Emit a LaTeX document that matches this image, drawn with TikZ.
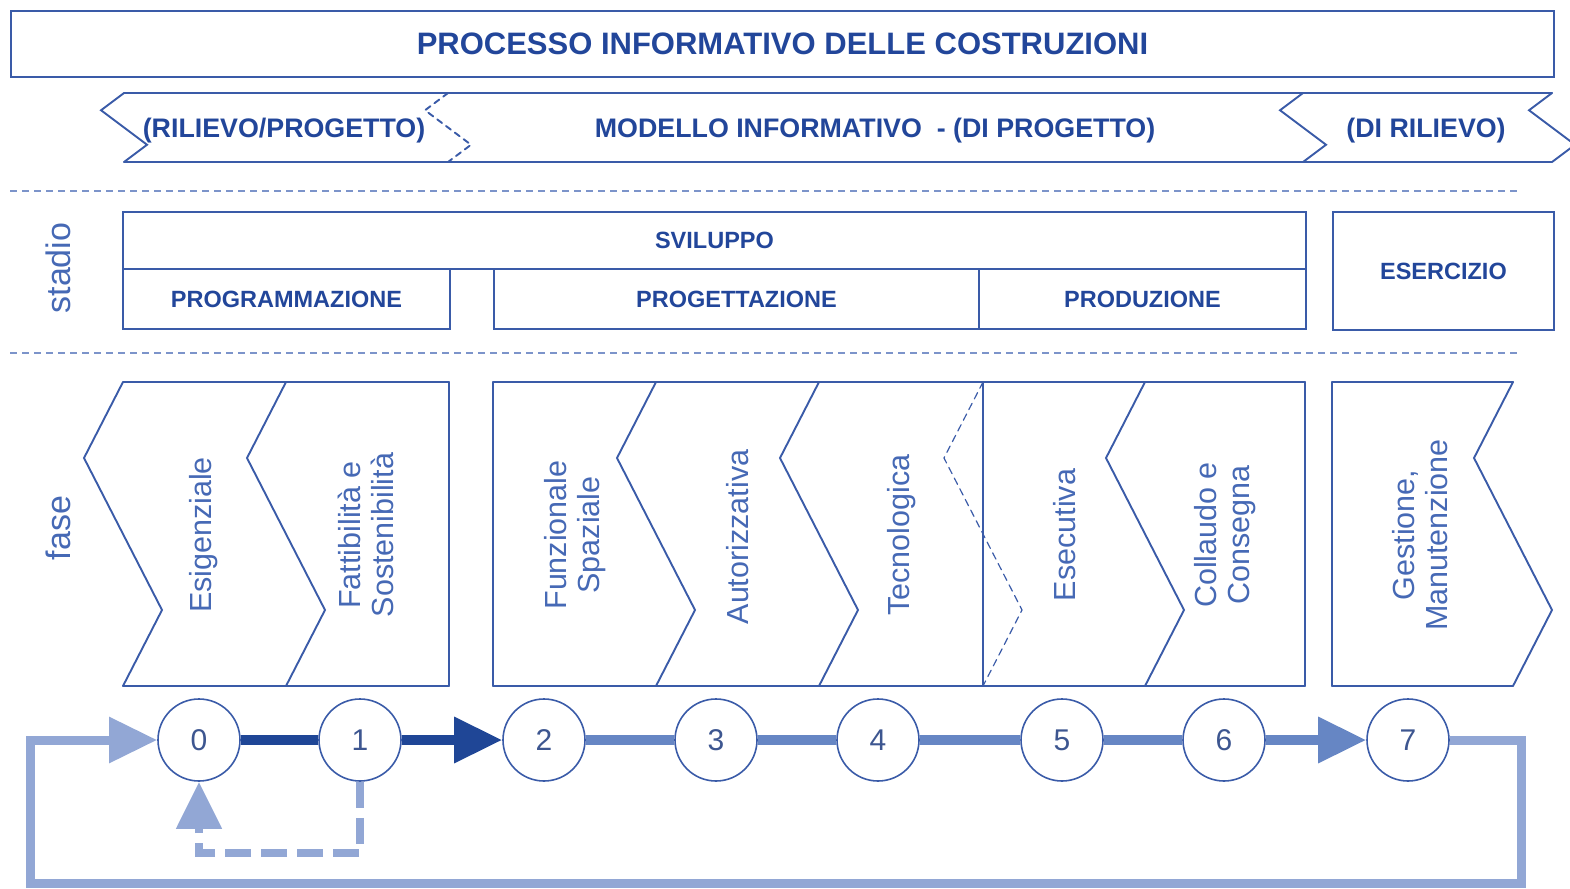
\documentclass[tikz,border=0pt]{standalone}
\usepackage{fontspec}
\setmainfont{Liberation Sans}
\usetikzlibrary{arrows.meta}
\definecolor{boxline}{HTML}{3A5BA8}
\definecolor{labeltext}{HTML}{22469A}
\definecolor{fasetext}{HTML}{4669B5}
\definecolor{numtext}{HTML}{3D5690}
\definecolor{darklink}{HTML}{1F4696}
\definecolor{midlink}{HTML}{6686C4}
\definecolor{lightlink}{HTML}{92A7D5}
\definecolor{rulecol}{HTML}{7C94CA}
\newcommand{\zigEdge}[5]{%
  \draw[#1] (#2,#3) -- ({#2-#5},{#3+0.25*(#4-#3)})
    -- ({#2+#5},{#3+0.75*(#4-#3)}) -- (#2,#4);%
}

\begin{document}
\begin{tikzpicture}[
  x=1pt,
  y=-1pt,
  every node/.style={inner sep=0pt, align=center},
  outline/.style={draw=boxline, line width=1.9pt, line cap=round},
  rule/.style={draw=rulecol, line width=1.4pt, dash pattern=on 7pt off 5pt},
  capsLabel/.style={text=labeltext, font=\fontsize{26.8}{30}\selectfont\bfseries},
  stadioBox/.style={outline, rectangle, anchor=north west, text=labeltext, font=\fontsize{23.5}{28}\selectfont\bfseries},
  faseLabel/.style={rotate=90, text=fasetext, font=\fontsize{30.5}{32.5}\selectfont},
  rowLabel/.style={rotate=90, text=fasetext, font=\fontsize{34}{34}\selectfont},
  stepCircle/.style={circle, draw=boxline, line width=1.6pt, fill=white, minimum size=82pt, text=numtext, font=\fontsize{30}{30}\selectfont},
  bigTip/.style={-{Triangle[length=48pt,width=44pt]}},
  darkLink/.style={draw=darklink, line width=9.5pt},
  midLink/.style={draw=midlink, line width=9.5pt},
  loopLink/.style={draw=lightlink, line width=9pt},
  fbLink/.style={draw=lightlink, line width=8pt, dash pattern=on 26pt off 10pt}
]
  \useasboundingbox (0,0) rectangle (1570,888);

  % Title.
  \node[outline, rectangle, anchor=north west, minimum width=1543pt, minimum height=66pt, text=labeltext, font=\fontsize{31}{31}\selectfont\bfseries] (title) at (10,10) {PROCESSO INFORMATIVO DELLE COSTRUZIONI};

  % Information model ribbon.
  \draw[outline] (124,93) -- (1552,93);
  \draw[outline] (124,162) -- (1552,162);
  \foreach \xz in {124,1303,1552} {\zigEdge{outline}{\xz}{93}{162}{23}}
  \zigEdge{outline, dash pattern=on 6pt off 5pt}{448}{93}{162}{23}
  \node[capsLabel] (rilProg) at (284,131) {(RILIEVO/PROGETTO)};
  \node[capsLabel] (modello) at (875,131) {MODELLO INFORMATIVO\ \ - (DI PROGETTO)};
  \node[capsLabel] (diRil) at (1426,131) {(DI RILIEVO)};

  % Separators.
  \draw[rule] (10,191) -- (1517,191);
  \draw[rule] (10,353) -- (1517,353);

  % Stadio boxes.
  \node[rowLabel] (stadio) at (58,268) {stadio};
  \node[stadioBox, minimum width=1183pt, minimum height=57pt] (sviluppo) at (122,211) {SVILUPPO};
  \node[stadioBox, minimum width=327pt, minimum height=60pt] (programm) at (122,268) {PROGRAMMAZIONE};
  \node[stadioBox, minimum width=485pt, minimum height=60pt] (progett) at (493,268) {PROGETTAZIONE};
  \node[stadioBox, minimum width=327pt, minimum height=60pt] (produz) at (978,268) {PRODUZIONE};
  \node[stadioBox, minimum width=221pt, minimum height=118pt] (esercizio) at (1332,211) {ESERCIZIO};

  % Fase chevrons.
  \node[rowLabel] (fase) at (58,528) {fase};
  \foreach \xa/\xb in {123/449, 493/1305, 1332/1513} {
    \draw[outline] (\xa,382) -- (\xb,382);
    \draw[outline] (\xa,686) -- (\xb,686);
  }
  \foreach \xz in {123,286,656,819,1145,1513} {\zigEdge{outline}{\xz}{382}{686}{39}}
  \foreach \xs in {449,493,983,1305,1332} {\draw[outline] (\xs,382) -- (\xs,686);}
  \zigEdge{outline, line width=1.2pt, dash pattern=on 7pt off 5pt}{983}{382}{686}{39}
  \node[faseLabel] (esig) at (204,535) {Esigenziale};
  \node[faseLabel] (fatt) at (366,535) {Fattibilità e\\Sostenibilità};
  \node[faseLabel] (funz) at (575,535) {Funzionale\\Spaziale};
  \node[faseLabel] (autor) at (738,537) {Autorizzativa};
  \node[faseLabel] (tecno) at (902,535) {Tecnologica};
  \node[faseLabel] (esec) at (1065,535) {Esecutiva};
  \node[faseLabel] (coll) at (1225,535) {Collaudo e\\Consegna};
  \node[faseLabel] (gest) at (1420,535) {Gestione,\\Manutenzione};

  % Step circles.
  \foreach \n/\x in {0/199,1/360,2/544,3/716,4/878,5/1062,6/1224,7/1408}
    \node[stepCircle] (c\n) at (\x,740) {\n};

  % Step links.
  \draw[darkLink] (c0) -- (c1);
  \draw[darkLink, bigTip] (c1) -- (c2);
  \foreach \a/\b in {2/3,3/4,4/5,5/6} \draw[midLink] (c\a) -- (c\b);
  \draw[midLink, bigTip] (c6) -- (c7);

  % Return loops.
  \coordinate (loopR) at (1521,883);
  \coordinate (loopL) at (30,883);
  \draw[loopLink, bigTip] (c7) -| (loopR) -- (loopL) |- (c0);
  \coordinate (fbL) at (199,853);
  \draw[fbLink, -{Triangle[length=47pt,width=44pt]}] (c1) |- (fbL) -- (c0);
\end{tikzpicture}
\end{document}
